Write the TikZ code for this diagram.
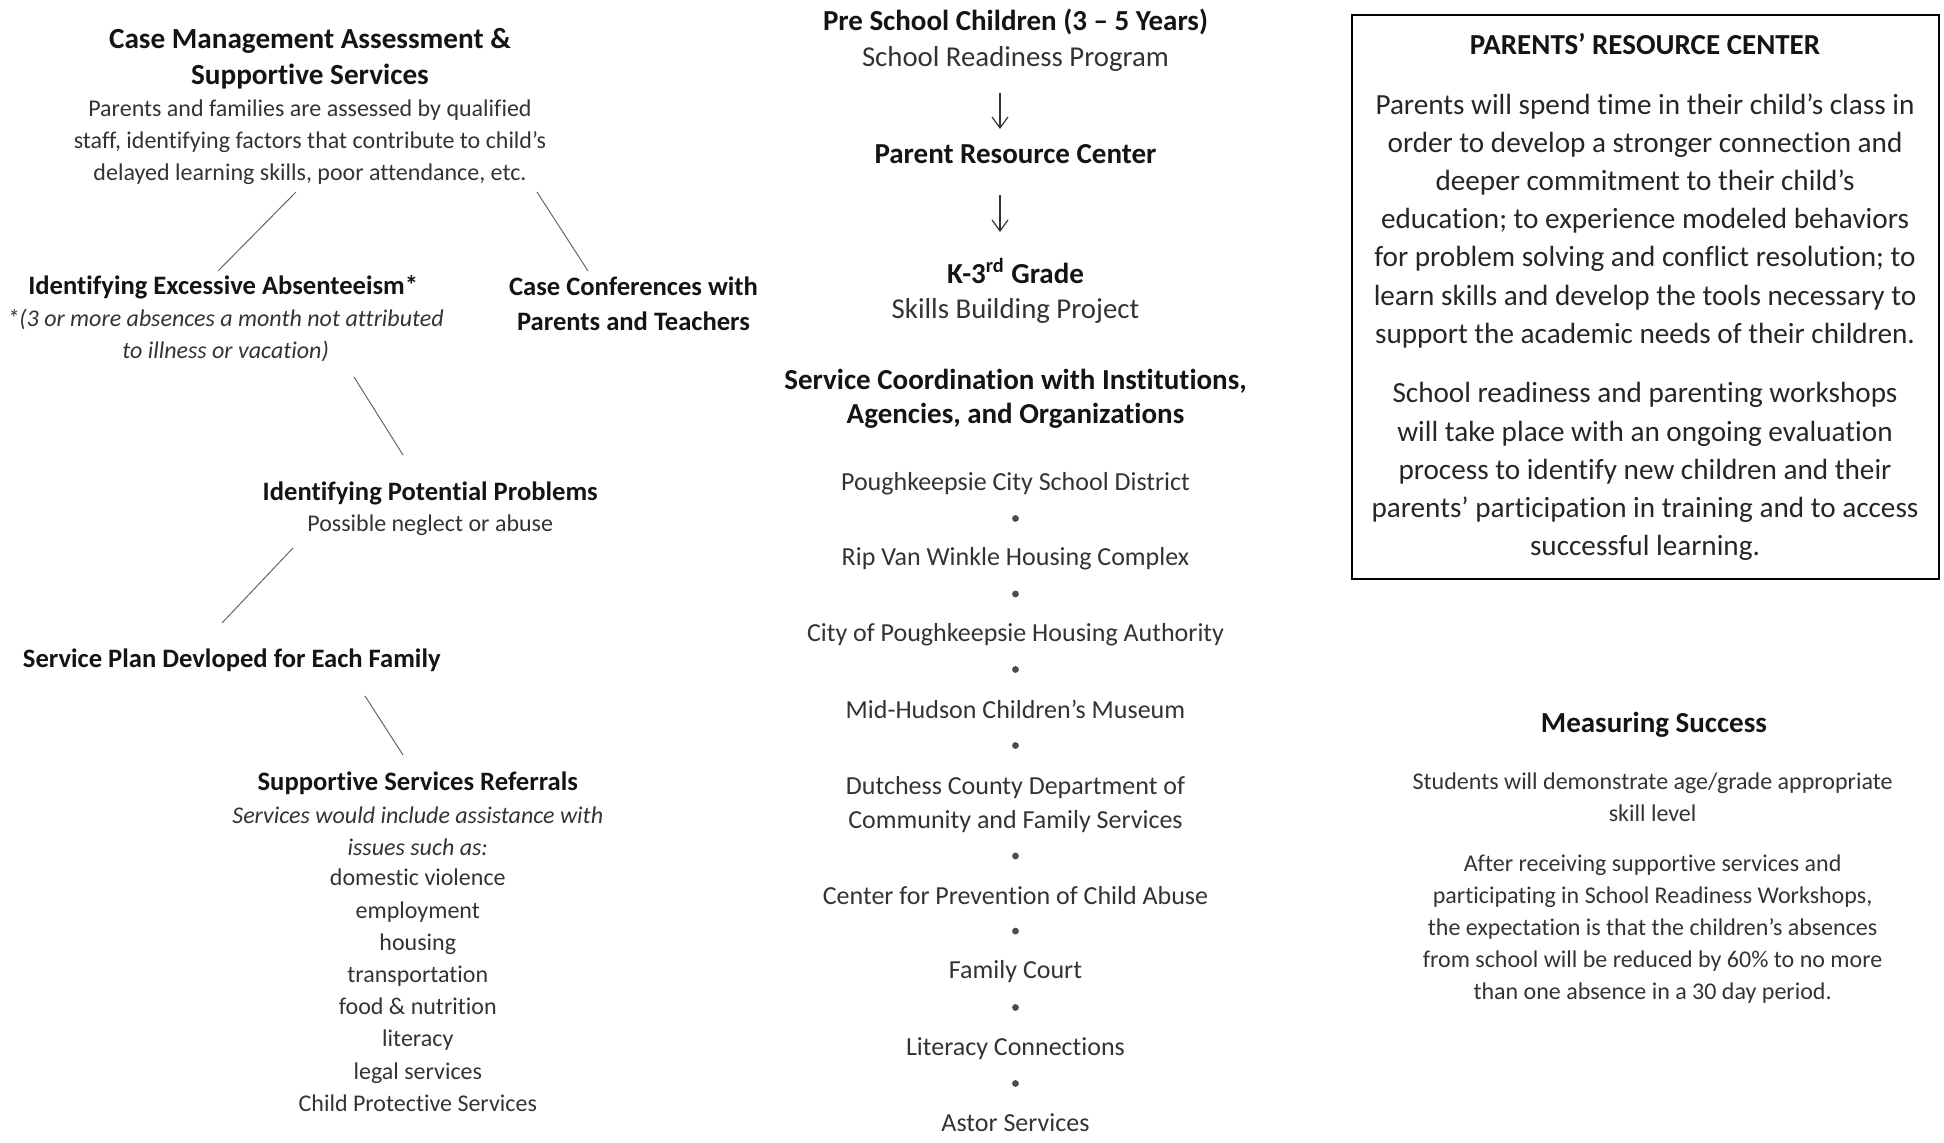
\documentclass[tikz,border=0pt]{standalone}
\usepackage{fontspec}
\setmainfont{Carlito}[Ligatures=NoCommon]
\usetikzlibrary{arrows.meta,positioning}
\tikzset{every picture/.style={line width=0.6pt}}
\tikzset{
  hd/.style={font=\bfseries\fontsize{13.3}{17.4}\selectfont, text=black!92, align=center, inner sep=0pt, yshift=-1.2pt},
  bighd/.style={font=\bfseries\fontsize{14.5}{17.5}\selectfont, text=black!92, align=center, inner sep=0pt, yshift=-1.2pt},
  txt/.style={font=\fontsize{12}{16.1}\selectfont, text=black!80, align=center, inner sep=0pt, yshift=-1.2pt},
  itxt/.style={font=\itshape\fontsize{12}{16.1}\selectfont, text=black!80, align=center, inner sep=0pt, yshift=-1.2pt},
  midtxt/.style={font=\fontsize{14.4}{17.5}\selectfont, text=black!80, align=center, inner sep=0pt, yshift=-1.2pt},
  org/.style={font=\fontsize{13}{16.75}\selectfont, text=black!80, align=center, inner sep=0pt, yshift=-1.2pt},
  boxtxt/.style={font=\fontsize{14.6}{19.1}\selectfont, text=black!85, align=center, inner sep=0pt, yshift=-1.2pt},
  dot/.style={circle, fill=black!70, inner sep=0pt, minimum size=3.4pt},
  link/.style={draw=black!60, line width=0.5pt},
  arr/.style={draw=black!80, line width=0.6pt, -{Straight Barb[length=5.5pt,width=8pt]}}
}
\begin{document}
\begin{tikzpicture}[x=0.5pt,y=-0.5pt]
\useasboundingbox (0,0) rectangle (1944,1143);
% left column
\node[bighd, font=\bfseries\fontsize{14.6}{18}\selectfont] (cmahead) at (310,56.4) {Case Management Assessment \&\\Supportive Services};
\node[txt] (cmabody) at (310,140.1) {Parents and families are assessed by qualified\\staff, identifying factors that contribute to child’s\\delayed learning skills, poor attendance, etc.};
\node[hd] (absent) at (223.2,285.2) {Identifying Excessive Absenteeism*};
\node[itxt] (absnote) at (225.6,333) {*(3 or more absences a month not attributed\\to illness or vacation)};
\node[hd] (confer) at (633.5,301) {Case Conferences with\\Parents and Teachers};
\node[hd] (potprob) at (430.2,491) {Identifying Potential Problems};
\node[txt] (potnote) at (430.2,523.2) {Possible neglect or abuse};
\node[hd] (plan) at (231.8,658.3) {Service Plan Devloped for Each Family};
\node[hd] (referral) at (417.8,781) {Supportive Services Referrals};
\node[itxt] (refnote) at (417.8,828.5) {Services would include assistance with\\issues such as:};
\node[txt] (reflist) at (417.8,988) {domestic violence\\employment\\housing\\transportation\\food \& nutrition\\literacy\\legal services\\Child Protective Services};
%
\coordinate (l1a) at (296,192);
\coordinate (l1b) at (218,271);
\coordinate (l2a) at (537,192);
\coordinate (l2b) at (588,271);
\coordinate (l3a) at (354,377);
\coordinate (l3b) at (403,455);
\coordinate (l4a) at (293,548);
\coordinate (l4b) at (222,623);
\coordinate (l5a) at (365,696);
\coordinate (l5b) at (403,755);
\draw[link] (l1a) -- (l1b);
\draw[link] (l2a) -- (l2b);
\draw[link] (l3a) -- (l3b);
\draw[link] (l4a) -- (l4b);
\draw[link] (l5a) -- (l5b);
% middle column
\node[bighd] (presch) at (1015.5,20) {Pre School Children (3 – 5 Years)};
\node[midtxt] (readiness) at (1015.5,56.8) {School Readiness Program};
\node[bighd] (prc) at (1015.5,152) {Parent Resource Center};
\node[bighd] (kthree) at (1015.5,268.5) {K-3\textsuperscript{rd} Grade};
\node[midtxt] (skills) at (1015.5,309) {Skills Building Project};
\coordinate (a1s) at (1000,93);
\coordinate (a1e) at (1000,129);
\coordinate (a2s) at (1000,195);
\coordinate (a2e) at (1000,232);
\draw[arr] (a1s) -- (a1e);
\draw[arr] (a2s) -- (a2e);
\node[bighd, font=\bfseries\fontsize{14.5}{17}\selectfont] (svc) at (1015.5,396) {Service Coordination with Institutions,\\Agencies, and Organizations};
\node[org] (o1) at (1015.5,481) {Poughkeepsie City School District};
\node[dot] (d1) at (1015.5,518.5) {};
\node[org] (o2) at (1015.5,556.7) {Rip Van Winkle Housing Complex};
\node[dot] (d2) at (1015.5,594) {};
\node[org] (o3) at (1015.5,632.3) {City of Poughkeepsie Housing Authority};
\node[dot] (d3) at (1015.5,669.5) {};
\node[org] (o4) at (1015.5,707) {Mid-Hudson Children’s Museum};
\node[dot] (d4) at (1015.5,745.5) {};
\node[org] (o5) at (1015.5,802) {Dutchess County Department of\\Community and Family Services};
\node[dot] (d5) at (1015.5,856) {};
\node[org] (o6) at (1015.5,893) {Center for Prevention of Child Abuse};
\node[dot] (d6) at (1015.5,931.1) {};
\node[org] (o7) at (1015.5,969.5) {Family Court};
\node[dot] (d7) at (1015.5,1007.5) {};
\node[org] (o8) at (1015.5,1046) {Literacy Connections};
\node[dot] (d8) at (1015.5,1083.5) {};
\node[org] (o9) at (1015.5,1120.5) {Astor Services};
% right column
\node[draw=black, line width=1.25pt, minimum width=293.5pt, minimum height=282pt, inner sep=0pt] (prcbox) at (1645.5,297) {};
\node[bighd] (boxhead) at (1645,42) {PARENTS’ RESOURCE CENTER};
\node[boxtxt] (boxpara1) at (1645,218.4) {Parents will spend time in their child’s class in\\order to develop a stronger connection and\\deeper commitment to their child’s\\education; to experience modeled behaviors\\for problem solving and conflict resolution; to\\learn skills and develop the tools necessary to\\support the academic needs of their children.};
\node[boxtxt] (boxpara2) at (1645,469.2) {School readiness and parenting workshops\\will take place with an ongoing evaluation\\process to identify new children and their\\parents’ participation in training and to access\\successful learning.};
\node[bighd] (measure) at (1653.9,722.8) {Measuring Success};
\node[txt] (meas1) at (1652.6,795) {Students will demonstrate age/grade appropriate\\skill level};
\node[txt, font=\fontsize{12}{16}\selectfont] (meas2) at (1652.6,927) {After receiving supportive services and\\participating in School Readiness Workshops,\\the expectation is that the children’s absences\\from school will be reduced by 60\% to no more\\than one absence in a 30 day period.};
\end{tikzpicture}
\end{document}
